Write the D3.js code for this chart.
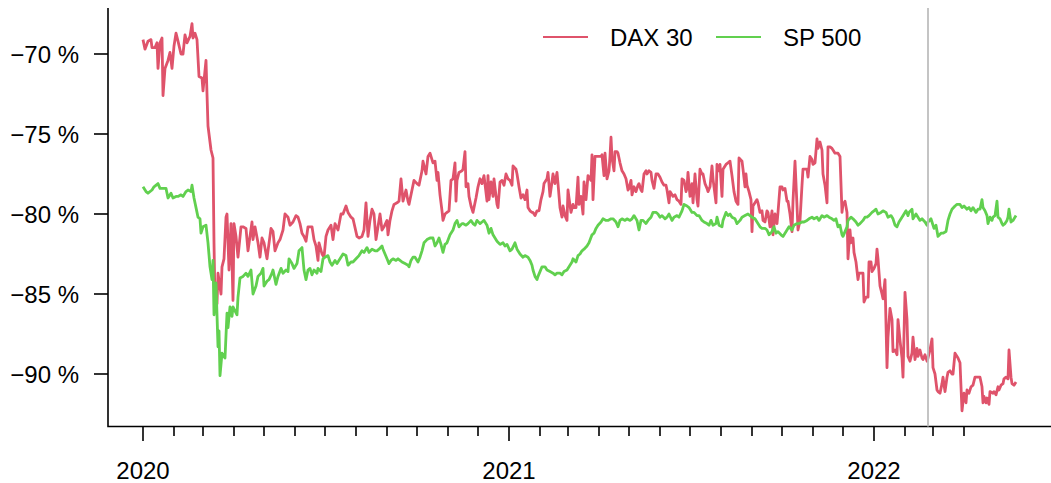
<!DOCTYPE html>
<html>
<head>
<meta charset="utf-8">
<script src="https://cdn.jsdelivr.net/npm/d3@7"></script>
<style>
  body { margin: 0; background: #fff; }
  text { font-family: "Liberation Sans", Arial, Helvetica, sans-serif; }
</style>
</head>
<body>
<script>
// days since 2020-01-01, percent
const startDate = new Date(Date.UTC(2020, 0, 1));
const eventDate = new Date(Date.UTC(2022, 1, 24));

const seriesNames = ["DAX 30", "SP 500"];
const seriesColors = ["#DF536B", "#61D04F"];
const yTicks = [-90, -85, -80, -75, -70];
const yearTicks = [2020, 2021, 2022];

const dax = [
  [0,-69.1],[2,-69.7],[5,-69.2],[8,-69.1],[9,-69.6],[12,-69.6],[14,-69.3],[15,-70.9],[17,-69.3],[19,-69.0],
  [20,-72.6],[22,-70.9],[25,-70.4],[27,-69.9],[29,-70.9],[31,-69.5],[33,-68.7],[35,-69.2],[38,-70.0],[40,-70.0],
  [42,-68.8],[44,-69.3],[47,-68.9],[49,-68.1],[50,-69.0],[52,-68.7],[54,-69.1],[56,-71.4],[59,-71.5],[60,-72.3],
  [63,-70.4],[64,-72.5],[65,-74.5],[68,-76.0],[70,-76.5],[71,-81.8],[72,-85.6],[74,-85.6],[75,-83.7],[78,-85.0],
  [79,-83.3],[81,-82.8],[83,-80.2],[84,-80.0],[86,-83.5],[88,-80.6],[90,-85.4],[91,-80.6],[93,-81.4],[95,-82.7],
  [98,-80.8],[100,-80.8],[103,-80.9],[105,-82.3],[109,-80.5],[110,-81.6],[112,-80.8],[115,-81.8],[117,-82.7],[119,-81.5],
  [121,-81.8],[124,-82.8],[125,-82.3],[128,-80.9],[130,-81.1],[132,-82.3],[135,-81.8],[137,-81.6],[140,-81.0],[142,-80.0],
  [145,-80.2],[147,-80.7],[150,-80.5],[153,-80.1],[155,-80.2],[157,-80.6],[159,-81.2],[161,-81.4],[163,-81.7],[165,-80.8],
  [169,-80.8],[171,-81.6],[173,-82.0],[175,-82.9],[176,-81.8],[179,-82.5],[181,-82.7],[183,-81.4],[185,-81.0],[188,-80.7],
  [190,-81.6],[192,-80.6],[195,-81.0],[198,-80.0],[200,-80.0],[203,-79.5],[205,-79.9],[208,-80.2],[210,-80.3],[214,-81.4],
  [216,-81.5],[219,-81.4],[221,-81.0],[223,-79.3],[225,-81.4],[227,-80.4],[229,-79.7],[231,-80.0],[233,-81.6],[235,-80.8],
  [237,-80.0],[239,-81.0],[241,-80.8],[244,-80.4],[245,-81.3],[247,-80.4],[249,-79.8],[251,-79.4],[254,-79.3],[256,-79.2],
  [258,-77.8],[260,-79.2],[263,-78.5],[265,-79.2],[266,-79.4],[269,-78.5],[271,-77.9],[274,-78.1],[276,-78.2],[279,-77.3],
  [280,-76.7],[283,-77.5],[285,-76.4],[287,-76.2],[290,-76.8],[292,-76.7],[294,-77.9],[295,-77.4],[297,-78.8],[299,-79.8],
  [300,-80.4],[302,-80.0],[304,-79.9],[306,-79.8],[308,-77.9],[310,-77.8],[312,-76.8],[313,-79.2],[314,-77.9],[316,-77.4],
  [319,-77.3],[320,-77.2],[322,-76.1],[323,-78.3],[325,-78.1],[326,-78.9],[328,-79.5],[330,-79.9],[333,-79.0],[335,-78.3],
  [337,-77.8],[339,-78.1],[341,-77.6],[344,-79.2],[345,-77.6],[346,-79.1],[348,-78.0],[350,-78.9],[351,-77.8],[354,-79.4],
  [355,-79.6],[357,-78.0],[359,-77.9],[361,-78.2],[363,-77.5],[365,-77.8],[367,-77.9],[369,-78.2],[370,-77.0],[373,-77.2],
  [374,-77.5],[376,-78.3],[378,-79.0],[380,-78.8],[382,-79.1],[384,-78.5],[385,-79.6],[387,-79.8],[389,-79.9],[390,-79.9],
  [392,-80.1],[394,-79.8],[396,-79.8],[398,-79.1],[400,-78.6],[401,-78.1],[404,-77.8],[405,-77.4],[407,-78.9],[409,-78.0],
  [410,-77.5],[412,-78.1],[414,-77.4],[415,-78.1],[417,-79.6],[419,-80.2],[420,-79.5],[422,-80.1],[424,-80.4],[425,-78.5],
  [426,-79.0],[428,-79.9],[430,-79.4],[431,-79.6],[433,-79.6],[435,-77.7],[436,-79.4],[438,-78.9],[440,-80.0],[441,-78.0],
  [443,-79.1],[445,-77.6],[446,-77.7],[448,-77.9],[449,-76.3],[450,-79.1],[452,-76.4],[454,-76.4],[456,-76.4],[458,-76.4],
  [459,-76.3],[461,-77.6],[462,-76.2],[464,-77.8],[466,-77.3],[467,-76.4],[468,-75.2],[469,-76.5],[471,-77.3],[472,-76.1],
  [474,-76.1],[475,-76.2],[477,-76.8],[479,-77.3],[481,-77.5],[483,-77.8],[485,-78.5],[486,-78.4],[488,-77.9],[489,-78.8],
  [491,-78.3],[493,-78.6],[495,-78.2],[496,-78.1],[498,-78.5],[499,-78.6],[501,-77.5],[503,-77.3],[504,-77.5],[506,-77.3],
  [508,-77.4],[509,-77.9],[511,-78.4],[513,-77.5],[515,-77.5],[517,-77.7],[519,-78.0],[521,-78.2],[523,-78.2],[524,-78.5],
  [526,-79.3],[527,-78.6],[529,-78.8],[530,-78.9],[532,-78.8],[534,-79.1],[536,-79.2],[538,-79.4],[539,-77.8],[541,-77.9],
  [543,-78.6],[544,-78.4],[545,-77.4],[547,-78.9],[549,-78.1],[550,-79.3],[552,-77.5],[554,-79.1],[555,-79.5],[557,-77.2],
  [559,-77.5],[560,-77.5],[562,-78.1],[564,-78.4],[565,-78.6],[567,-78.3],[569,-77.0],[570,-77.8],[573,-79.3],[574,-76.9],
  [576,-77.3],[577,-76.9],[579,-78.9],[580,-77.2],[583,-76.9],[585,-76.8],[587,-76.7],[589,-77.6],[591,-78.6],[593,-79.2],
  [595,-79.4],[596,-76.5],[599,-76.7],[600,-77.2],[602,-78.3],[603,-77.5],[604,-78.2],[606,-78.6],[608,-79.1],[609,-81.1],
  [610,-79.5],[612,-79.3],[614,-79.1],[615,-79.3],[617,-79.9],[619,-79.8],[620,-80.4],[622,-80.5],[624,-79.8],[625,-79.9],
  [627,-80.8],[629,-79.8],[630,-81.3],[632,-80.0],[634,-80.6],[635,-79.9],[637,-78.3],[639,-78.3],[640,-78.5],[642,-78.4],
  [644,-79.2],[645,-79.2],[647,-80.0],[649,-81.1],[650,-79.2],[652,-76.7],[654,-79.5],[655,-81.0],[657,-80.4],[659,-78.2],
  [660,-77.2],[662,-77.2],[664,-77.2],[665,-77.7],[667,-76.4],[669,-76.6],[670,-76.9],[672,-76.8],[674,-75.3],[675,-75.9],
  [677,-75.5],[679,-76.0],[680,-77.5],[682,-78.2],[684,-79.3],[685,-75.8],[687,-75.8],[689,-75.9],[690,-76.0],[692,-76.2],
  [695,-76.2],[697,-76.4],[699,-79.9],[700,-79.4],[702,-79.2],[704,-79.9],[705,-82.8],[707,-81.0],[708,-81.8],[710,-81.5],
  [711,-82.4],[713,-83.0],[715,-84.1],[716,-83.7],[718,-83.7],[720,-83.7],[721,-85.5],[723,-85.2],[725,-85.2],[726,-83.0],
  [728,-83.0],[729,-83.6],[731,-83.4],[733,-83.1],[734,-82.2],[735,-82.8],[737,-84.5],[739,-85.0],[740,-85.3],[742,-84.1],
  [744,-89.6],[745,-87.7],[747,-85.9],[749,-86.6],[750,-88.6],[752,-88.5],[754,-88.8],[755,-86.6],[757,-87.9],[759,-89.0],
  [760,-90.2],[762,-84.9],[764,-86.6],[765,-88.9],[767,-89.2],[769,-88.7],[770,-87.7],[772,-89.1],[774,-88.4],[775,-88.9],
  [777,-88.5],[779,-89.0],[780,-89.1],[782,-88.8],[784,-89.2],[785,-89.0],[787,-88.5],[789,-87.8],[790,-89.6],[792,-90.0],
  [794,-91.0],[795,-91.1],[797,-91.2],[799,-90.6],[800,-90.2],[802,-91.1],[804,-90.2],[805,-89.9],[807,-89.8],[809,-90.0],
  [810,-90.0],[812,-88.7],[815,-89.0],[817,-89.3],[819,-92.3],[821,-91.2],[823,-91.8],[824,-91.0],[826,-91.2],[828,-90.8],
  [830,-90.7],[832,-90.2],[834,-90.2],[837,-90.2],[839,-90.8],[840,-91.8],[841,-91.4],[843,-91.8],[844,-91.5],[846,-91.9],
  [847,-91.1],[850,-91.2],[851,-91.1],[853,-91.3],[855,-90.8],[856,-91.0],[858,-90.7],[860,-90.6],[861,-90.3],[863,-90.2],
  [865,-90.3],[866,-88.5],[868,-90.2],[869,-90.6],[871,-90.7],[873,-90.5]
];

const sp = [
  [0,-78.3],[3,-78.6],[5,-78.7],[9,-78.5],[11,-78.3],[15,-78.1],[17,-78.4],[20,-78.4],[23,-78.4],[25,-79.0],
  [28,-78.7],[30,-79.0],[33,-78.9],[35,-78.9],[38,-78.8],[40,-78.9],[43,-78.6],[45,-78.5],[48,-78.6],[49,-78.2],
  [51,-79.0],[54,-79.9],[55,-80.2],[57,-80.3],[58,-81.2],[60,-80.8],[63,-80.7],[65,-81.8],[67,-83.3],[69,-84.1],
  [70,-82.9],[71,-86.3],[73,-84.3],[75,-88.3],[76,-87.3],[77,-90.1],[79,-88.7],[81,-88.9],[82,-89.0],[84,-86.2],
  [85,-87.1],[87,-85.8],[89,-86.4],[90,-85.8],[94,-86.3],[95,-85.2],[97,-84.0],[100,-83.9],[103,-83.7],[105,-83.9],
  [108,-83.5],[110,-85.0],[113,-84.5],[115,-83.9],[118,-83.7],[120,-83.4],[121,-84.5],[124,-84.2],[126,-84.1],[129,-83.7],
  [130,-83.5],[133,-84.4],[135,-83.9],[138,-83.4],[140,-83.7],[143,-83.5],[145,-83.6],[146,-82.8],[149,-83.1],[151,-83.4],
  [154,-83.1],[156,-82.3],[159,-82.1],[161,-83.5],[163,-84.1],[165,-83.5],[167,-83.4],[169,-83.8],[171,-83.5],[174,-83.7],
  [175,-83.4],[178,-83.6],[180,-82.8],[182,-82.7],[185,-82.6],[187,-83.0],[189,-83.2],[192,-82.9],[194,-83.1],[197,-82.8],
  [200,-82.5],[203,-82.6],[205,-83.2],[208,-83.0],[210,-83.0],[213,-82.8],[216,-82.6],[219,-82.3],[221,-82.4],[224,-82.1],
  [226,-82.4],[229,-82.2],[232,-82.3],[234,-82.3],[236,-82.2],[239,-82.0],[240,-82.2],[242,-82.5],[244,-82.8],[246,-83.1],
  [248,-82.9],[250,-82.8],[253,-82.9],[255,-82.8],[257,-82.9],[259,-83.0],[262,-83.1],[265,-83.2],[266,-83.3],[268,-82.9],
  [270,-82.7],[272,-82.7],[275,-83.0],[277,-82.7],[279,-82.3],[281,-81.8],[284,-81.6],[287,-81.5],[290,-81.5],[292,-82.0],
  [294,-81.8],[296,-81.5],[298,-81.9],[300,-82.4],[302,-81.9],[304,-81.8],[307,-81.3],[310,-81.0],[312,-80.6],[314,-80.4],
  [316,-80.8],[319,-80.6],[320,-80.6],[323,-80.7],[325,-80.6],[328,-80.4],[330,-80.6],[332,-80.7],[334,-80.4],[337,-80.6],
  [339,-80.5],[341,-80.4],[344,-80.7],[346,-81.2],[348,-80.9],[350,-81.3],[352,-81.5],[354,-81.7],[357,-81.9],[360,-81.8],
  [362,-82.0],[364,-81.9],[367,-82.3],[369,-82.2],[372,-81.8],[374,-82.2],[377,-82.5],[380,-82.7],[382,-82.6],[385,-82.7],
  [387,-82.9],[389,-83.2],[390,-83.5],[392,-83.9],[394,-84.1],[395,-83.9],[397,-83.6],[399,-83.3],[402,-83.3],[404,-83.5],
  [407,-83.6],[410,-83.7],[412,-83.8],[414,-83.7],[417,-83.7],[419,-83.8],[421,-83.6],[424,-83.5],[426,-83.3],[429,-83.0],
  [430,-82.8],[433,-83.0],[435,-82.6],[437,-82.5],[439,-82.3],[441,-82.2],[444,-82.0],[446,-81.8],[449,-81.3],[451,-81.2],
  [453,-80.9],[455,-80.7],[458,-80.5],[460,-80.3],[463,-80.4],[465,-80.4],[468,-80.3],[470,-80.3],[473,-80.5],[475,-80.8],
  [477,-80.4],[479,-80.3],[482,-80.4],[484,-80.3],[487,-80.4],[489,-80.3],[491,-80.1],[494,-80.4],[496,-81.0],[498,-80.4],
  [500,-80.4],[503,-80.6],[505,-80.4],[508,-80.2],[510,-79.9],[513,-79.9],[515,-80.0],[517,-80.2],[519,-80.1],[522,-80.3],
  [524,-80.2],[526,-80.0],[529,-80.4],[531,-80.2],[534,-80.1],[536,-80.2],[539,-79.8],[541,-79.4],[544,-79.5],[546,-79.6],
  [549,-79.9],[551,-79.9],[554,-80.1],[556,-80.1],[559,-80.4],[561,-80.5],[564,-80.6],[566,-80.7],[568,-80.4],[570,-80.7],
  [573,-80.6],[574,-80.2],[576,-80.7],[579,-80.8],[580,-80.4],[583,-79.9],[585,-80.1],[587,-80.0],[589,-80.2],[592,-80.3],
  [594,-80.6],[597,-80.4],[599,-80.2],[602,-80.1],[605,-80.0],[607,-80.1],[609,-80.2],[612,-80.3],[614,-80.5],[617,-80.8],
  [619,-80.9],[622,-80.9],[624,-81.0],[626,-81.3],[629,-81.1],[631,-80.8],[633,-81.2],[635,-81.1],[638,-81.3],[640,-81.4],
  [642,-81.2],[644,-81.0],[646,-80.8],[649,-81.0],[651,-80.7],[654,-80.6],[656,-80.6],[659,-80.5],[661,-80.5],[664,-80.4],
  [666,-80.3],[669,-80.2],[671,-80.3],[674,-80.2],[676,-80.4],[679,-80.1],[681,-80.2],[684,-80.1],[686,-80.2],[689,-80.3],
  [691,-80.4],[693,-80.3],[695,-80.8],[697,-80.7],[699,-81.3],[700,-81.4],[702,-81.1],[704,-80.8],[705,-80.4],[708,-80.2],
  [710,-80.3],[713,-80.5],[715,-80.7],[717,-80.6],[720,-80.4],[722,-80.2],[724,-80.2],[726,-80.1],[729,-79.9],[731,-79.8],
  [733,-79.7],[735,-80.0],[738,-79.9],[740,-79.8],[743,-79.9],[745,-80.2],[748,-80.1],[750,-80.3],[752,-80.7],[754,-80.8],
  [756,-80.5],[759,-80.2],[761,-80.0],[763,-79.8],[765,-80.1],[766,-79.9],[769,-79.7],[770,-80.3],[773,-80.0],[775,-80.2],
  [777,-80.4],[779,-80.3],[782,-80.5],[784,-80.7],[785,-80.5],[788,-80.3],[789,-80.5],[791,-80.9],[793,-80.7],[795,-81.4],
  [798,-81.2],[800,-81.2],[803,-81.1],[805,-80.4],[807,-80.0],[809,-79.7],[812,-79.5],[814,-79.4],[817,-79.4],[819,-79.6],
  [821,-79.5],[824,-79.7],[826,-79.6],[828,-79.8],[830,-79.6],[833,-79.9],[835,-79.7],[837,-79.7],[839,-79.1],[840,-79.6],
  [842,-79.8],[844,-80.1],[845,-80.6],[847,-80.2],[849,-80.4],[850,-80.2],[852,-80.1],[854,-79.2],[855,-80.2],[857,-80.3],
  [859,-80.6],[860,-80.7],[862,-80.6],[864,-80.4],[865,-80.2],[866,-79.7],[868,-80.5],[870,-80.4],[873,-80.1]
];

const width = 1051;
const height = 483;

const svg = d3.select('body').append('svg')
              .attr('width', width)
              .attr('height', height);

const day = d => d3.utcDay.offset(startDate, d);

const x = d3.scaleUtc()
            .domain([day(-35), day(908)])
            .range([108, 1051]);

const y = d3.scaleLinear()
            .domain([-93.28125, -67.125])
            .range([426.5, 8]);

const line = d3.line()
               .x(d => x(day(d[0])))
               .y(d => y(d[1]));

// The axes box (left and bottom only)
svg.append("path")
   .attr("d", `M${x.range()[0]},${y.range()[1]}V${y.range()[0]}H${x.range()[1]}`)
   .attr("fill", "none")
   .attr("stroke", "black")
   .attr("stroke-width", 1.6);

// y ticks and labels
yTicks.forEach(t => {
  svg.append("line").attr("x1", 94).attr("x2", 108)
     .attr("y1", y(t)).attr("y2", y(t))
     .attr("stroke", "black").attr("stroke-width", 1.6);
  svg.append("text").attr("x", 79).attr("y", y(t) + 8.5)
     .attr("text-anchor", "end")
     .attr("font-size", 24)
     .text("\u2212" + Math.abs(t) + " %");
});

// month ticks
const months = d3.utcMonth.range(startDate, new Date(Date.UTC(2022, 3, 2)));
months.forEach(m => {
  const major = m.getUTCMonth() === 0;
  svg.append("line").attr("x1", x(m)).attr("x2", x(m))
     .attr("y1", 426.5).attr("y2", major ? 441 : 436)
     .attr("stroke", "black").attr("stroke-width", 1.6);
});

yearTicks.forEach(yr => {
  svg.append("text").attr("x", x(new Date(Date.UTC(yr, 0, 1))))
     .attr("y", 479)
     .attr("text-anchor", "middle")
     .attr("font-size", 24)
     .text(yr);
});

// The series
[dax, sp].forEach((s, i) => {
  svg.append("path").datum(s)
     .attr("d", line)
     .attr("fill", "none")
     .attr("stroke", seriesColors[i])
     .attr("stroke-width", 2.8)
     .attr("stroke-linejoin", "round");
});

// 24 Feb 2022 marker
svg.append("line").attr("x1", x(eventDate)).attr("x2", x(eventDate))
   .attr("y1", 8).attr("y2", 426.5)
   .attr("stroke", "#BEBEBE")
   .attr("stroke-width", 1.8);

// The legend
const legendX = [543, 716];
seriesNames.forEach((name, i) => {
  svg.append("line").attr("x1", legendX[i]).attr("x2", legendX[i] + 45)
     .attr("y1", 37).attr("y2", 37)
     .attr("stroke", seriesColors[i])
     .attr("stroke-width", 1.8);
  svg.append("text").attr("x", legendX[i] + 67).attr("y", 45.5)
     .attr("font-size", 24)
     .text(name);
});
</script>
</body>
</html>
